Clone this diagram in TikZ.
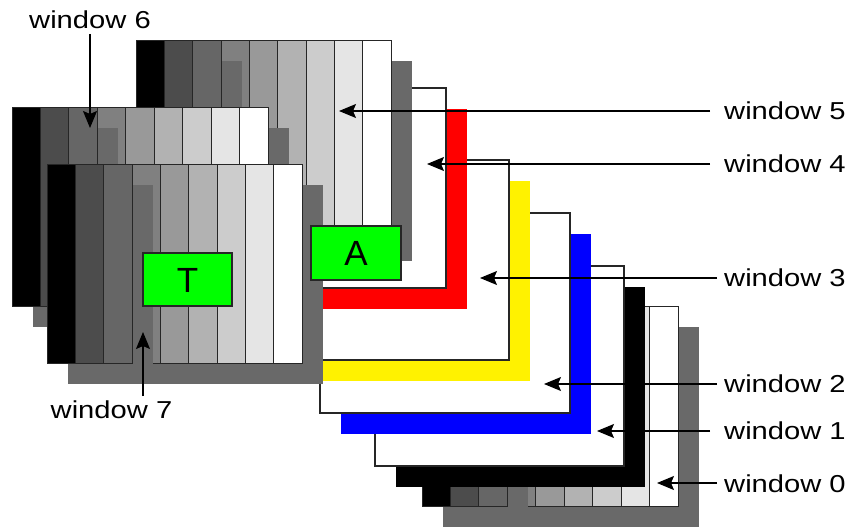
\documentclass[tikz,border=0pt]{standalone}
\usepackage{graphicx}
\usepackage{fontspec}
\setmainfont{Liberation Sans}
\usetikzlibrary{arrows.meta,calc}
\definecolor{g1}{gray}{0.30}
\definecolor{g2}{gray}{0.40}
\definecolor{g3}{gray}{0.50}
\definecolor{g4}{gray}{0.60}
\definecolor{g5}{gray}{0.70}
\definecolor{g6}{gray}{0.80}
\definecolor{g7}{gray}{0.90}
\definecolor{shd}{gray}{0.41}
\definecolor{grn}{RGB}{0,255,0}
\newcommand\wl[1]{\scalebox{1.19}[1]{#1}}
% bar window: x1 y1 x2 y2 (pixel units, y downwards)
\newcommand\barwin[4]{%
  \fill[shd] ({#1+21},{#2+21}) rectangle ({#3+21},{#4+21});
  \foreach \i/\c in {0/black,1/g1,2/g2,3/g3,4/g4,5/g5,6/g6,7/g7,8/white}{
    \draw[barline,fill=\c] ({#1+\i*(#3-#1)/9},#2) rectangle ({#1+(\i+1)*(#3-#1)/9},#4);
  }
  \fill[shd] ({#1+3*(#3-#1)/9+0.6},{#2+21}) rectangle ({#1+3*(#3-#1)/9+21},{#4+0.6});
}
% plain window with coloured shadow: x1 y1 x2 y2 colour
\newcommand\plainwin[5]{%
  \fill[#5] ({#1+21},{#2+21}) rectangle ({#3+21},{#4+21});
  \draw[winline,fill=white] (#1,#2) rectangle (#3,#4);
}
\tikzset{
  barline/.style={draw=black!85,line width=0.9pt},
  winline/.style={draw=black!85,line width=1.3pt},
  lbl/.style={font=\fontsize{24.5pt}{25pt}\selectfont,inner sep=0pt,text height=17.5pt,text depth=0pt},
  gbox/.style={draw=black!85,line width=1.3pt,fill=grn,inner sep=0pt,font=\fontsize{35pt}{36pt}\selectfont,text height=25pt,text depth=0pt},
  arr/.style={draw=black,line width=1.3pt,-{Stealth[length=17pt,width=14pt,inset=3pt]}}
}
\begin{document}
\begin{tikzpicture}[x=1pt,y=-1pt]
\useasboundingbox (0,0) rectangle (852,527);
% window 0
\barwin{422}{306}{678}{506}
% window 1 .. 4
\plainwin{375}{266}{624}{466}{black}
\plainwin{320}{213}{570}{413}{blue}
\plainwin{254}{160}{509}{360}{yellow}
\plainwin{191}{88}{446}{288}{red}
% window 5, 6, 7
\barwin{136}{40}{391}{240}
\barwin{12}{107}{268}{306}
\barwin{47}{164}{302}{363}
% labelled boxes
\node[gbox,minimum width=90pt,minimum height=54pt] (A) at (356,253) {A};
\node[gbox,minimum width=89pt,minimum height=53pt] (T) at (187.5,279.5) {T};
% arrow tips
\coordinate (t5) at (339,111);
\coordinate (t4) at (427,164);
\coordinate (t3) at (480,278);
\coordinate (t2) at (544,384);
\coordinate (t1) at (597,431);
\coordinate (t0) at (657,483);
\coordinate (t6) at (90,128);
\coordinate (t7) at (143,332);
% labels
\node[lbl,anchor=west] (l5) at (724,111) {\wl{window 5}};
\node[lbl,anchor=west] (l4) at (724,164) {\wl{window 4}};
\node[lbl,anchor=west] (l3) at (724,278) {\wl{window 3}};
\node[lbl,anchor=west] (l2) at (724,384) {\wl{window 2}};
\node[lbl,anchor=west] (l1) at (724,431) {\wl{window 1}};
\node[lbl,anchor=west] (l0) at (724,484) {\wl{window 0}};
\node[lbl] (l6) at (90,20) {\wl{window 6}};
\node[lbl] (l7) at (111.5,410) {\wl{window 7}};
% connectors
\draw[arr] ([xshift=-14pt]l5.west) -- (t5);
\draw[arr] ([xshift=-14pt]l4.west) -- (t4);
\draw[arr] ([xshift=-7pt]l3.west) -- (t3);
\draw[arr] ([xshift=-7pt]l2.west) -- (t2);
\draw[arr] ([xshift=-14pt]l1.west) -- (t1);
\draw[arr] ([xshift=-7pt]l0.west |- t0) -- (t0);
\draw[arr] ([yshift=-5pt]l6.south) -- (t6);
\draw[arr] ($(l7.north -| t7)+(0,-5)$) -- (t7);
\end{tikzpicture}
\end{document}
